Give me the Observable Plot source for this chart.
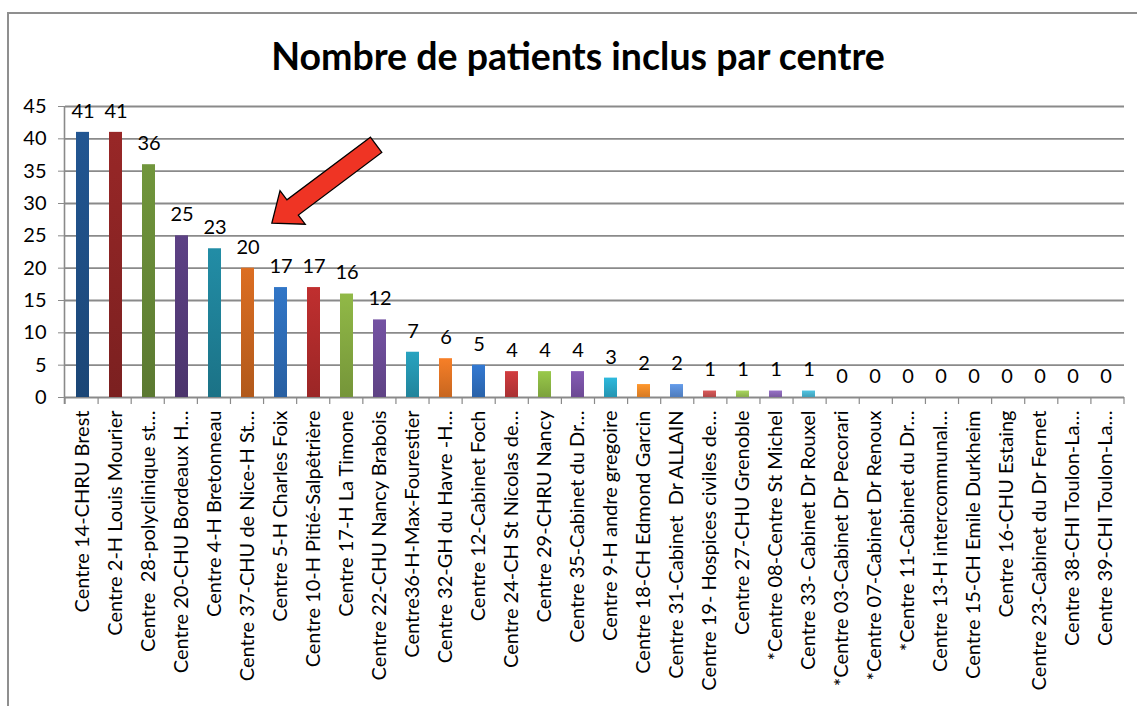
<!DOCTYPE html>
<html><head><meta charset="utf-8">
<script src="https://cdn.jsdelivr.net/npm/d3@7"></script>
<script src="https://cdn.jsdelivr.net/npm/@observablehq/plot@0.6"></script>
<style>
html,body{margin:0;padding:0;background:#fff}
body{width:1137px;height:706px;overflow:hidden;position:relative;font-family:Lato,"Open Sans",sans-serif}
#frame{position:absolute;left:7px;top:12px;width:1400px;height:900px;border-left:2px solid #8f8f8f;border-top:2px solid #8f8f8f;box-sizing:border-box;pointer-events:none;z-index:10}
#title{position:relative;height:90px;box-sizing:border-box;padding-top:38px;padding-left:19px;text-align:center;font-weight:bold;font-size:37.5px;line-height:36px;color:#000}
#chart{position:relative}
</style>
</head><body>
<div id="frame"></div>
<div id="title">Nombre de patients inclus par centre</div>
<div id="chart"></div>
<script>
const centres = [
  "Centre 14-CHRU Brest",
  "Centre 2-H Louis Mourier",
  "Centre  28-polyclinique st…",
  "Centre 20-CHU Bordeaux H…",
  "Centre 4-H Bretonneau",
  "Centre 37-CHU de Nice-H St…",
  "Centre 5-H Charles Foix",
  "Centre 10-H Pitié-Salpêtrière",
  "Centre 17-H La Timone",
  "Centre 22-CHU Nancy Brabois",
  "Centre36-H-Max-Fourestier",
  "Centre 32-GH du Havre -H…",
  "Centre 12-Cabinet Foch",
  "Centre 24-CH St Nicolas de…",
  "Centre 29-CHRU Nancy",
  "Centre 35-Cabinet du Dr…",
  "Centre 9-H andre gregoire",
  "Centre 18-CH Edmond Garcin",
  "Centre 31-Cabinet  Dr ALLAIN",
  "Centre 19- Hospices civiles de…",
  "Centre 27-CHU Grenoble",
  "*Centre 08-Centre St Michel",
  "Centre 33- Cabinet Dr Rouxel",
  "*Centre 03-Cabinet Dr Pecorari",
  "*Centre 07-Cabinet Dr Renoux",
  "*Centre 11-Cabinet du Dr…",
  "Centre 13-H intercommunal…",
  "Centre 15-CH Emile Durkheim",
  "Centre 16-CHU Estaing",
  "Centre 23-Cabinet du Dr Fernet",
  "Centre 38-CHI Toulon-La…",
  "Centre 39-CHI Toulon-La…"
];
const patients = [41, 41, 36, 25, 23, 20, 17, 17, 16, 12, 7, 6, 5, 4, 4, 4, 3, 2, 2, 1, 1, 1, 1, 0, 0, 0, 0, 0, 0, 0, 0, 0];
const barColors = [
  "#1f4f86", "#8b2424", "#678937", "#553b7a", "#1f8198", "#c9651f",
  "#2d6cb6", "#b02b2b", "#85a941", "#6a4b95", "#2595b0", "#e27424",
  "#2f6fc0", "#c0373a", "#8cb844", "#7a53a6", "#2aa9ca", "#f48a28",
  "#5b8ed6", "#c85252", "#9bc455", "#8a67b6", "#4ab4d0", "#f79646",
  "#4f81bd", "#c0504d", "#9bbb59", "#8064a2", "#4bacc6", "#f79646",
  "#4f81bd", "#c0504d"
];
const yTicks = [0, 5, 10, 15, 20, 25, 30, 35, 40, 45];
// annotation arrow (category position from left edge of band range, value)
const arrowTail = {pos: 9.4, value: 39};
const arrowTip = {pos: 6.25, value: 26.9};

const data = centres.map((c, i) => ({centre: c, n: patients[i], fill: `url(#barGrad${i})`}));

const W = 1137, H = 616;
const mL = 65, mR = 13, mT = 16, mB = 309;

function decorations(index, scales, values, dims) {
  const g = d3.create("svg:g");
  const n = centres.length;
  const x0 = dims.marginLeft;
  const step = (dims.width - dims.marginLeft - dims.marginRight) / n;
  const y = scales.y;
  const yb = y(0);
  g.append("line").attr("x1", x0 - 0.5).attr("x2", x0 - 0.5).attr("y1", y(45)).attr("y2", yb + 7)
    .attr("stroke", "#8a8a8a").attr("stroke-width", 1.6);
  for (let i = 0; i <= n; i++) {
    const xx = x0 + i * step;
    g.append("line").attr("x1", xx).attr("x2", xx).attr("y1", yb).attr("y2", yb + 7)
      .attr("stroke", "#8a8a8a").attr("stroke-width", 1.2);
  }
  const tx = x0 + arrowTail.pos * step, ty = y(arrowTail.value);
  const px = x0 + arrowTip.pos * step, py = y(arrowTip.value);
  const dx = px - tx, dy = py - ty, len = Math.hypot(dx, dy);
  const ux = dx / len, uy = dy / len, nx = -uy, ny = ux;
  const HL = 26, HW = 21, SW = 9.5;
  const bx = px - ux * HL, by = py - uy * HL;
  const pts = [
    [tx + nx * SW, ty + ny * SW],
    [bx + nx * SW, by + ny * SW],
    [bx + nx * HW, by + ny * HW],
    [px, py],
    [bx - nx * HW, by - ny * HW],
    [bx - nx * SW, by - ny * SW],
    [tx - nx * SW, ty - ny * SW]
  ];
  g.append("polygon").attr("points", pts.map(p => p.join(",")).join(" "))
    .attr("fill", "#ef3424").attr("stroke", "#000").attr("stroke-width", 1.3).attr("stroke-linejoin", "miter");
  return g.node();
}

const chart = Plot.plot({
  width: W,
  height: H,
  marginLeft: mL,
  marginRight: mR,
  marginTop: mT,
  marginBottom: mB,
  style: {fontFamily: "Lato, 'Open Sans', sans-serif", fontSize: "19px", color: "#000", background: "transparent"},
  x: {domain: centres, paddingInner: 0.6, paddingOuter: 0.3, label: null},
  y: {domain: [0, 45], label: null},
  color: {type: "identity"},
  marks: [
    Plot.ruleY(yTicks, {stroke: "#8a8a8a", strokeWidth: 1.9, strokeOpacity: 1}),
    Plot.axisY({ticks: yTicks, tickSize: 7, tickPadding: 12, stroke: "#8a8a8a", strokeOpacity: 1, fontSize: 20, fill: "#000", label: null}),
    Plot.axisX({tickSize: 0, tickPadding: 13, tickRotate: -90, fontSize: 20, fill: "#000", label: null}),
    Plot.barY(data, {x: "centre", y: "n", fill: "fill"}),
    Plot.text(data, {x: "centre", y: "n", text: d => String(d.n), dy: -21, fontSize: 20, fill: "#000"}),
    decorations
  ]
});

const svg = d3.select(chart);
const defs = svg.insert("defs", ":first-child");
barColors.forEach((c, i) => {
  const gr = defs.append("linearGradient").attr("id", `barGrad${i}`).attr("x1", 0).attr("x2", 0).attr("y1", 0).attr("y2", 1);
  gr.append("stop").attr("offset", "0%").attr("stop-color", d3.color(c).brighter(0.25).formatHex());
  gr.append("stop").attr("offset", "100%").attr("stop-color", d3.color(c).darker(0.35).formatHex());
});
svg.selectAll("text").style("white-space", "pre");
document.getElementById("chart").appendChild(chart);
</script>
</body></html>
